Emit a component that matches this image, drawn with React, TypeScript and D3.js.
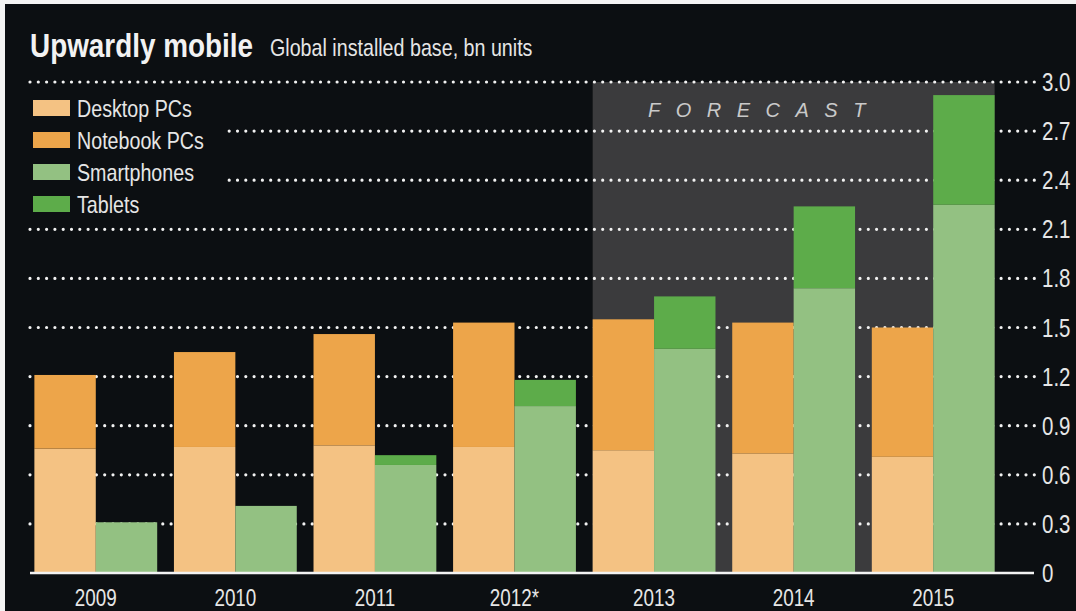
import React from 'react';
import * as d3 from 'd3';

// Global installed base, bn units
const years = ['2009', '2010', '2011', '2012*', '2013', '2014', '2015'];
const desktopPCs = [0.76, 0.77, 0.78, 0.77, 0.75, 0.73, 0.71];
const notebookPCs = [0.45, 0.58, 0.68, 0.76, 0.8, 0.8, 0.79];
const smartphones = [0.31, 0.41, 0.66, 1.02, 1.37, 1.74, 2.25];
const tablets = [0, 0, 0.06, 0.16, 0.32, 0.5, 0.67];
const forecastYears = ['2013', '2014', '2015'];
const yTicks = [0, 0.3, 0.6, 0.9, 1.2, 1.5, 1.8, 2.1, 2.4, 2.7, 3.0];

const legendItems = [
  { label: 'Desktop PCs', color: '#f4c283' },
  { label: 'Notebook PCs', color: '#eda54a' },
  { label: 'Smartphones', color: '#93c182' },
  { label: 'Tablets', color: '#5dac4a' },
];

const W = 1076;
const H = 611;
const BG = '#0c0f12';
const FONT = '"Liberation Sans", Arial, sans-serif';
const NARROW = 0.82; // squeeze Liberation Sans to a narrow face

// text squeezed horizontally, anchored at (x, y)
const Narrow: React.FC<{
  x: number; y: number; size: number; anchor?: string; weight?: string;
  fill?: string; dy?: string; children: React.ReactNode;
}> = ({ x, y, size, anchor = 'start', weight = 'normal', fill = '#e6e6e6', dy, children }) => (
  <text transform={`translate(${x},${y}) scale(${NARROW},1)`} textAnchor={anchor} dy={dy}
    fill={fill} fontFamily={FONT} fontSize={size} fontWeight={weight}>
    {children}
  </text>
);

export default function App() {
  const x = d3.scaleBand<string>()
    .domain(years)
    .range([26, 1003])
    .paddingInner(0.12)
    .paddingOuter(0.06);

  const sub = d3.scaleBand<string>()
    .domain(['pc', 'mobile'])
    .range([0, x.bandwidth()]);

  const y = d3.scaleLinear().domain([0, 3]).range([573, 82]);

  const rows = years.map((yr, i) => ({
    year: yr,
    desktop: desktopPCs[i],
    notebook: notebookPCs[i],
    smart: smartphones[i],
    tablet: tablets[i],
  }));

  const pcStack = d3.stack<any>().keys(['desktop', 'notebook'])(rows);
  const mobStack = d3.stack<any>().keys(['smart', 'tablet'])(rows);
  const pcColors = [legendItems[0].color, legendItems[1].color];
  const mobColors = [legendItems[2].color, legendItems[3].color];

  const fx0 = x(forecastYears[0]) ?? 0;
  const fx1 = (x(forecastYears[forecastYears.length - 1]) ?? 0) + x.bandwidth();

  const fmt = (v: number) => (v === 0 ? '0' : d3.format('.1f')(v));

  return (
    <svg width={W} height={H} style={{ position: 'absolute', left: 0, top: 0, background: '#f4f4f4' }}>
      <rect x={5} y={4} width={W - 5} height={H - 4} fill={BG} />

      {/* title */}
      <Narrow x={30} y={57} size={34} weight="bold" fill="#f2f2f2">Upwardly mobile</Narrow>
      <Narrow x={270} y={56} size={24}>Global installed base, bn units</Narrow>

      {/* forecast shading */}
      <rect x={fx0} y={y(3)} width={fx1 - fx0} height={y(0) - y(3)} fill="#3b3b3d" />
      <text x={648} y={117} fill="#c9c9c9" fontFamily={FONT} fontStyle="italic" fontSize={20}
        letterSpacing={15.5}>
        FORECAST
      </text>

      {/* dotted gridlines */}
      {yTicks.filter(t => t > 0).map(t => (
        <line key={t} x1={30} x2={1038} y1={y(t)} y2={y(t)}
          stroke="#f2f2f2" strokeWidth={3.2} strokeLinecap="round" strokeDasharray="0 8.3" />
      ))}

      {/* legend (covers the gridlines behind it) */}
      <rect x={28} y={92} width={198} height={126} fill={BG} />
      {legendItems.map((d, i) => (
        <g key={d.label}>
          <rect x={33} y={100 + i * 32} width={37} height={16} fill={d.color} />
          <Narrow x={77} y={117 + i * 32} size={24}>{d.label}</Narrow>
        </g>
      ))}

      {/* bars */}
      {pcStack.map((s, k) => s.map((d, i) => (
        <rect key={`pc-${k}-${i}`}
          x={(x(years[i]) ?? 0) + (sub('pc') ?? 0)}
          width={sub.bandwidth()}
          y={y(d[1])}
          height={y(d[0]) - y(d[1])}
          fill={pcColors[k]} />
      )))}
      {mobStack.map((s, k) => s.map((d, i) => (
        d[1] - d[0] > 0 ? (
          <rect key={`mob-${k}-${i}`}
            x={(x(years[i]) ?? 0) + (sub('mobile') ?? 0)}
            width={sub.bandwidth()}
            y={y(d[1])}
            height={y(d[0]) - y(d[1])}
            fill={mobColors[k]} />
        ) : null
      )))}

      {/* baseline */}
      <line x1={30} x2={1034} y1={y(0)} y2={y(0)} stroke="#f2f2f2" strokeWidth={2.5} />

      {/* y tick labels */}
      {yTicks.map(t => (
        <Narrow key={t} x={1042} y={y(t)} dy="0.36em" size={25}>{fmt(t)}</Narrow>
      ))}

      {/* year labels */}
      {years.map(yr => (
        <Narrow key={yr} x={(x(yr) ?? 0) + x.bandwidth() / 2} y={606} anchor="middle" size={23}>
          {yr}
        </Narrow>
      ))}
    </svg>
  );
}
